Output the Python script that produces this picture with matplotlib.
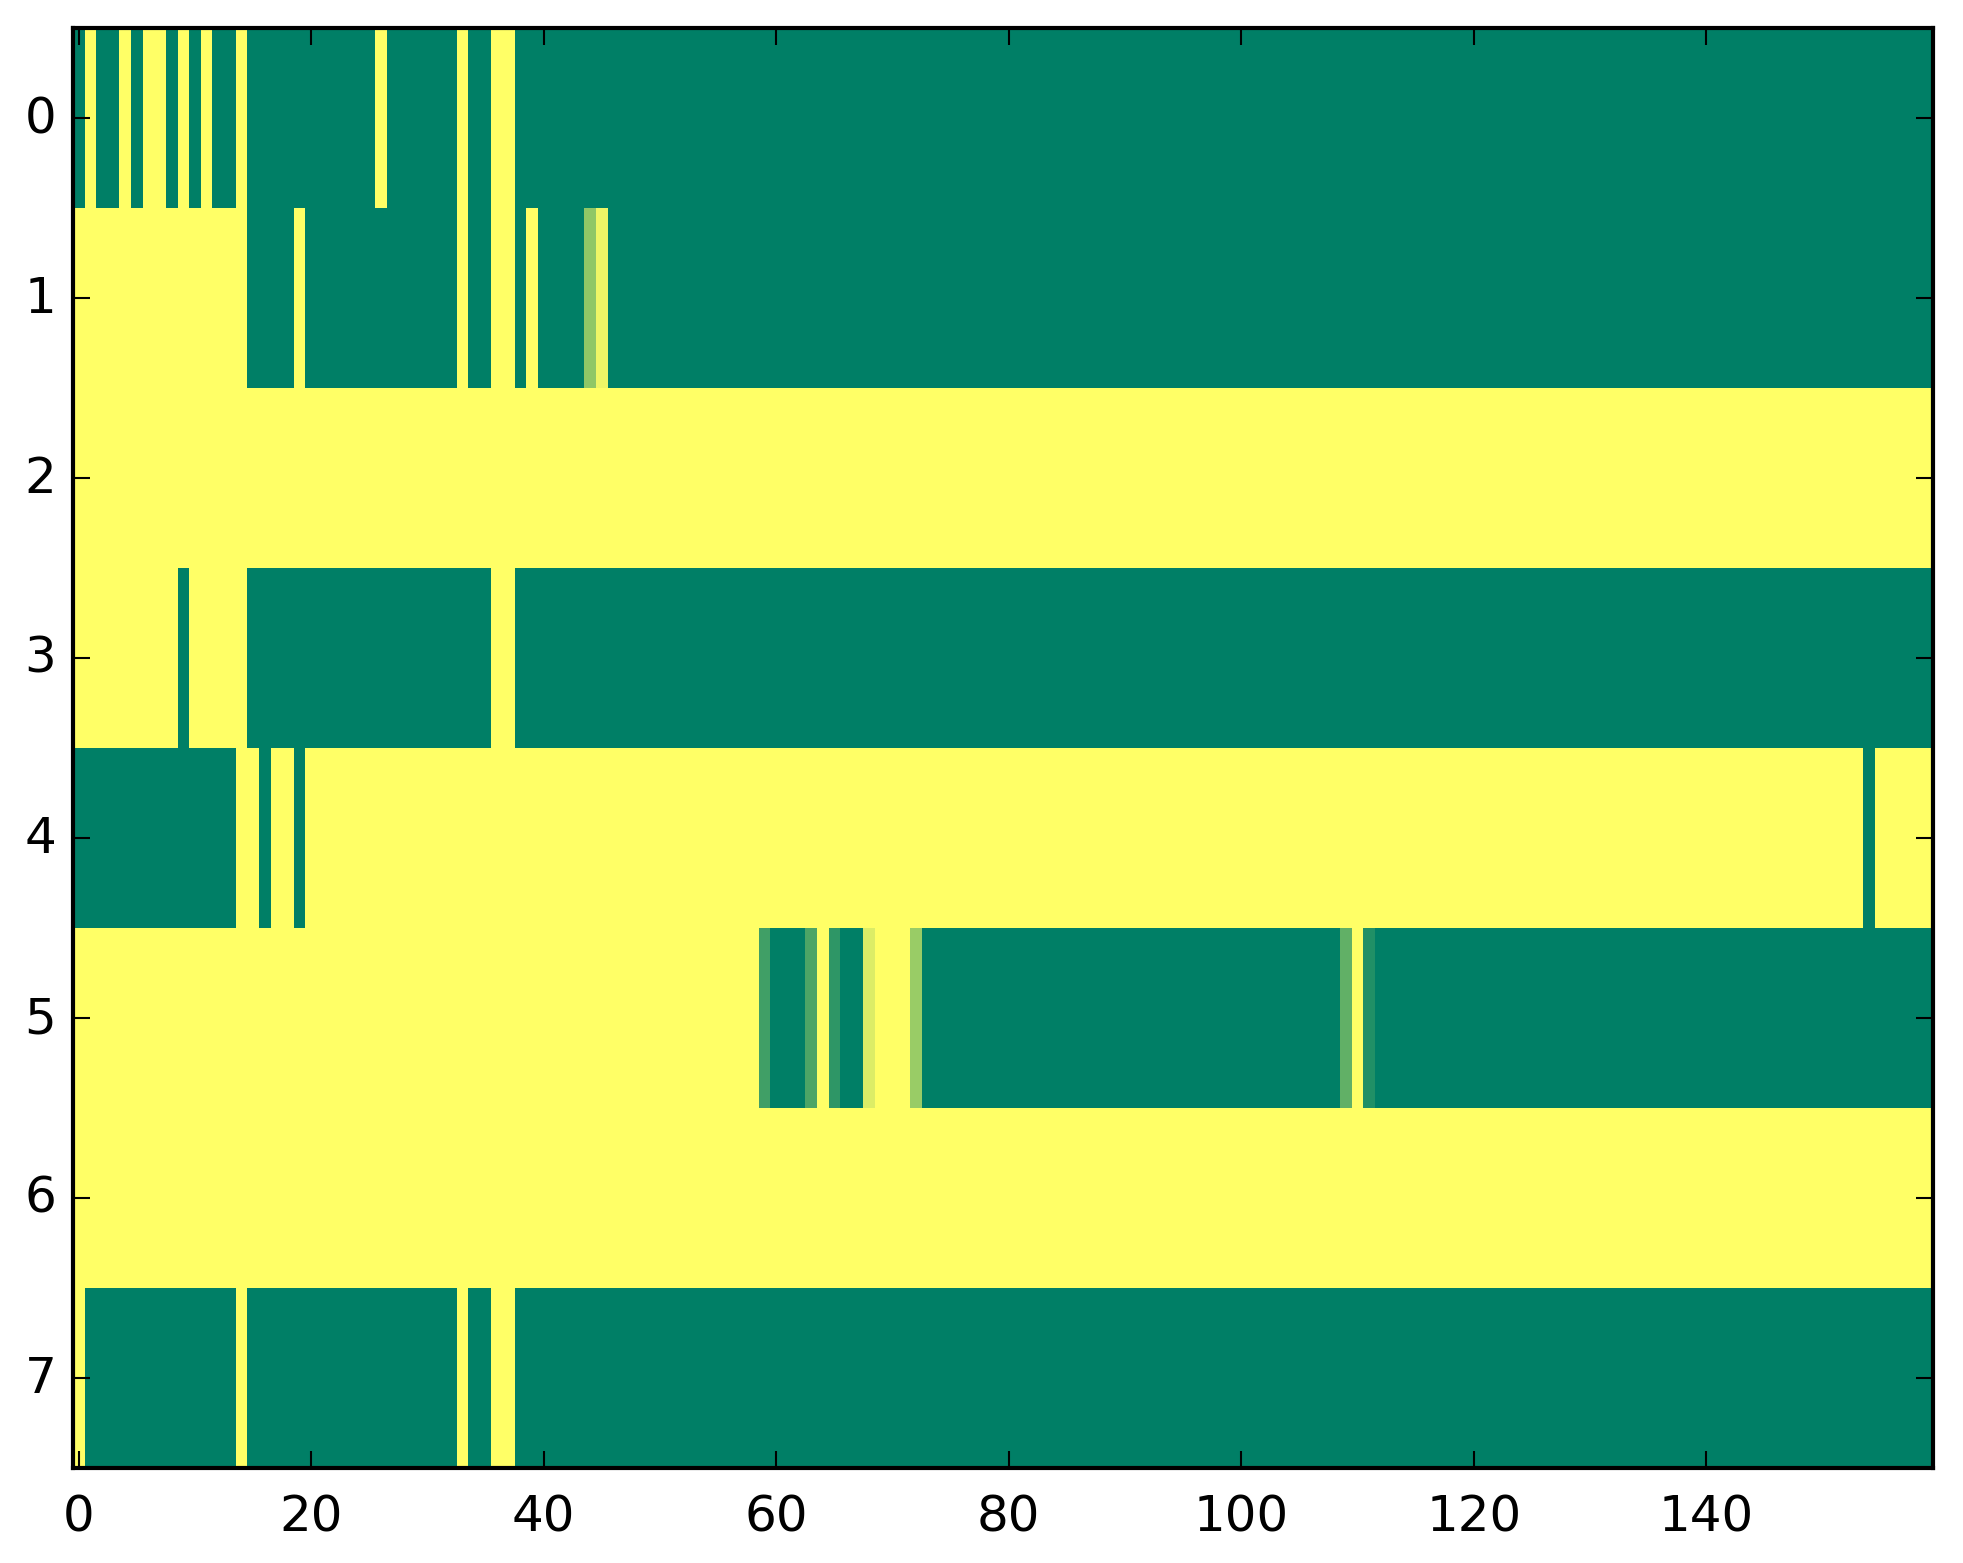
"""
Heat strip of eight binary-ish rows over 160 columns, drawn with imshow
in the old matplotlib "classic" look and the 'summer' colormap.
"""

import numpy as np
import matplotlib
matplotlib.use("Agg")
import matplotlib.pyplot as plt


# ── Data (run-length per row: (value, number of columns)) ────────────────────

ROW_0 = [(0, 1), (1, 1), (0, 2), (1, 1), (0, 1), (1, 2), (0, 1), (1, 1),
         (0, 1), (1, 1), (0, 2), (1, 1), (0, 11), (1, 1), (0, 6), (1, 1),
         (0, 2), (1, 2), (0, 122)]
ROW_1 = [(1, 15), (0, 4), (1, 1), (0, 13), (1, 1), (0, 2), (1, 2), (0, 1),
         (1, 1), (0, 4), (0.56, 1), (0.93, 1), (0, 114)]
ROW_2 = [(1, 160)]
ROW_3 = [(1, 9), (0, 1), (1, 5), (0, 21), (1, 2), (0, 122)]
ROW_4 = [(0, 14), (1, 2), (0, 1), (1, 2), (0, 1), (1, 134), (0, 1), (1, 5)]
ROW_5 = [(1, 59), (0.25, 1), (0, 3), (0.30, 1), (1, 1), (0.18, 1), (0, 2),
         (0.86, 1), (1, 3), (0.60, 1), (0, 36), (0.38, 1), (1, 1),
         (0.13, 1), (0, 48)]
ROW_6 = [(1, 160)]
ROW_7 = [(1, 1), (0, 13), (1, 1), (0, 18), (1, 1), (0, 2), (1, 2), (0, 122)]

ROWS = [ROW_0, ROW_1, ROW_2, ROW_3, ROW_4, ROW_5, ROW_6, ROW_7]
X_TICKS = [0, 20, 40, 60, 80, 100, 120, 140]
Y_TICKS = [0, 1, 2, 3, 4, 5, 6, 7]


def expand(runs):
    """Turn a run-length row into a flat array of cell values."""
    values = [v for v, _ in runs]
    counts = [n for _, n in runs]
    return np.repeat(values, counts)


# ── Plot ──────────────────────────────────────────────────────────────────────

plt.style.use("classic")

W, H, DPI = 1963, 1564, 300
fig = plt.figure(figsize=(W / DPI, H / DPI), dpi=DPI)
fig.patch.set_facecolor("white")
ax = fig.add_axes([73 / W, 1 - 1469 / H, 1860 / W, 1440 / H])

grid = np.vstack([expand(r) for r in ROWS])
ax.imshow(grid, cmap="summer", vmin=0, vmax=1, aspect="auto",
          interpolation="nearest")

ax.set_xticks(X_TICKS)
ax.set_yticks(Y_TICKS)
ax.set_xlim(-0.5, grid.shape[1] - 0.5)
ax.set_ylim(grid.shape[0] - 0.5, -0.5)
ax.tick_params(labelsize=12)
ax.tick_params(axis="x", pad=6)

fig.savefig("out.png", dpi=DPI, facecolor="white")
